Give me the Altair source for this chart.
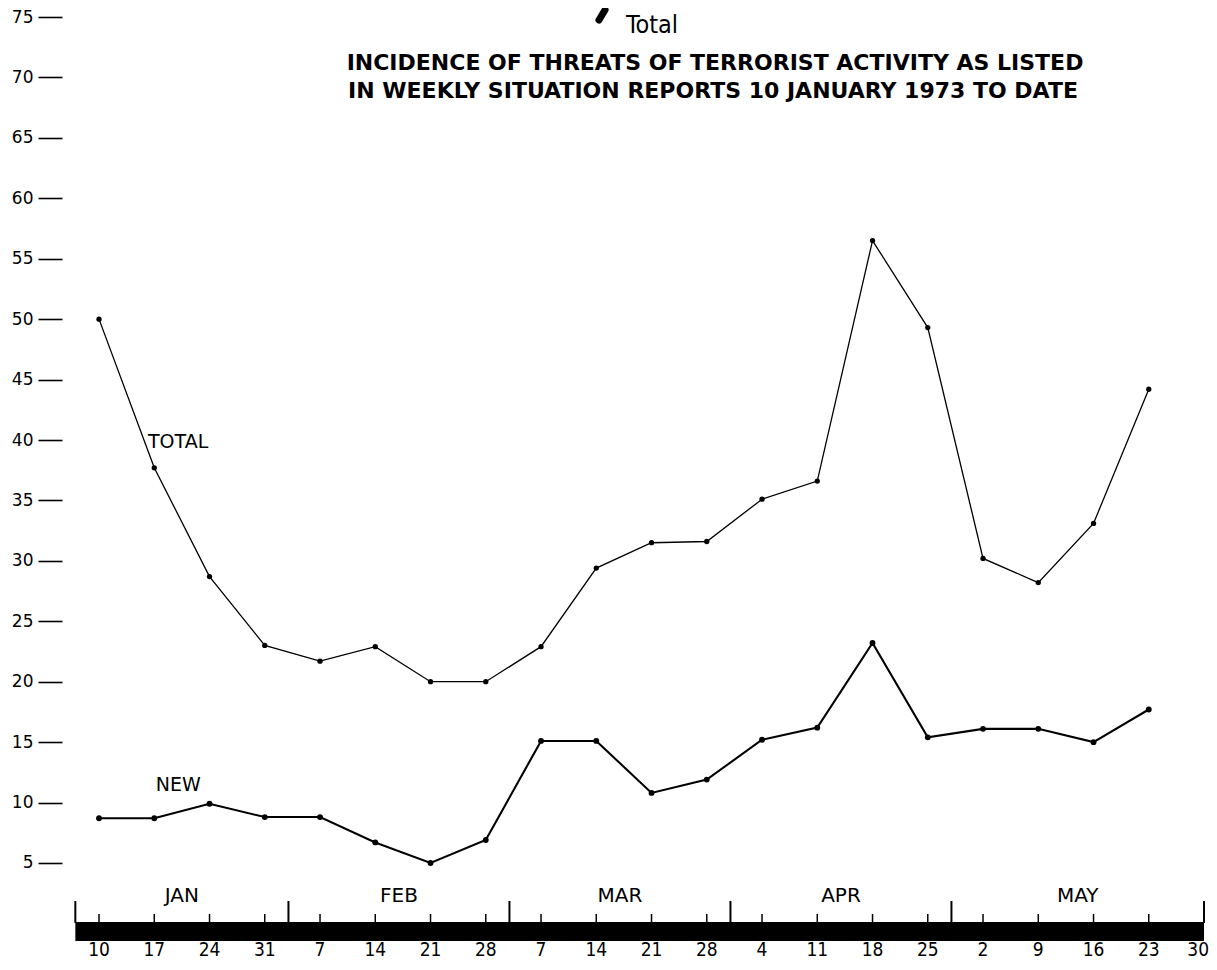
import altair as alt
import pandas as pd

# ---- data ----
dates = ["1973-01-10", "1973-01-17", "1973-01-24", "1973-01-31", "1973-02-07",
         "1973-02-14", "1973-02-21", "1973-02-28", "1973-03-07", "1973-03-14",
         "1973-03-21", "1973-03-28", "1973-04-04", "1973-04-11", "1973-04-18",
         "1973-04-25", "1973-05-02", "1973-05-09", "1973-05-16", "1973-05-23"]
total = [50.0, 37.7, 28.7, 23.0, 21.7, 22.9, 20.0, 20.0, 22.9, 29.4,
         31.5, 31.6, 35.1, 36.6, 56.5, 49.3, 30.2, 28.2, 33.1, 44.2]
new = [8.7, 8.7, 9.9, 8.8, 8.8, 6.7, 5.0, 6.9, 15.1, 15.1,
       10.8, 11.9, 15.2, 16.2, 23.2, 15.4, 16.1, 16.1, 15.0, 17.7]
axis_dates = dates + ["1973-05-30"]
month_names = ["JAN", "FEB", "MAR", "APR", "MAY"]
month_bounds = ["1973-01-07", "1973-02-03", "1973-03-03", "1973-03-31", "1973-04-28", "1973-05-30"]
y_ticks = [5, 10, 15, 20, 25, 30, 35, 40, 45, 50, 55, 60, 65, 70, 75]
title_lines = ["INCIDENCE OF THREATS OF TERRORIST ACTIVITY AS LISTED",
               "IN WEEKLY SITUATION REPORTS 10 JANUARY 1973 TO DATE"]
series_labels = ["TOTAL", "NEW"]
series_label_pos = [("1973-01-16", 39.8), ("1973-01-17", 11.45)]

COND = "DejaVu Sans Condensed, Liberation Sans, sans-serif"


def doy(s):
    return (pd.Timestamp(s) - pd.Timestamp("1972-12-31")).days


days = [doy(d) for d in dates]
df_total = pd.DataFrame({"day": days, "value": total})
df_new = pd.DataFrame({"day": days, "value": new})
df_axis = pd.DataFrame({"day": [doy(d) for d in axis_dates],
                        "label": [str(pd.Timestamp(d).day) for d in axis_dates]})
bounds = [doy(d) for d in month_bounds]
df_bounds = pd.DataFrame({"day": bounds})
df_months = pd.DataFrame({"day": [(bounds[i] + bounds[i + 1]) / 2 for i in range(5)],
                          "label": month_names})
df_bar = pd.DataFrame({"day": [bounds[0]], "day2": [bounds[-1]]})
df_lbl = pd.DataFrame({"day": [doy(p[0]) + 0.2 for p in series_label_pos],
                       "value": [p[1] for p in series_label_pos],
                       "label": series_labels})

xs = alt.Scale(domain=[5.31, 150.63])
ys = alt.Scale(domain=[-1.537, 75.745])
X = alt.X("day:Q", scale=xs, axis=None)
Y = alt.Y("value:Q", scale=ys, title=None,
          axis=alt.Axis(values=y_ticks, tickSize=24, tickWidth=1.6, tickColor="black",
                        domain=False, grid=False, labelPadding=5, labelFontSize=17,
                        labelFont="DejaVu Sans", labelColor="black"))

line_total = alt.Chart(df_total).mark_line(color="black", strokeWidth=1.3).encode(x=X, y=Y)
pts_total = alt.Chart(df_total).mark_circle(color="black", size=28, opacity=1).encode(x=X, y=Y)
line_new = alt.Chart(df_new).mark_line(color="black", strokeWidth=2.1).encode(x=X, y=Y)
pts_new = alt.Chart(df_new).mark_circle(color="black", size=34, opacity=1).encode(x=X, y=Y)

series_text = alt.Chart(df_lbl).mark_text(align="left", baseline="middle", fontSize=19,
                                          font="DejaVu Sans", color="black").encode(
    x=X, y=Y, text="label:N")

bar = alt.Chart(df_bar).mark_rect(color="black").encode(
    x=X, x2="day2:Q", y=alt.value(914), y2=alt.value(933))
small_ticks = alt.Chart(df_axis).mark_rule(color="black", strokeWidth=1.5).encode(
    x=X, y=alt.value(906), y2=alt.value(915))
dividers = alt.Chart(df_bounds).mark_rule(color="black", strokeWidth=2).encode(
    x=X, y=alt.value(893), y2=alt.value(915))
month_text = alt.Chart(df_months).mark_text(fontSize=20, font="DejaVu Sans", color="black",
                                            baseline="alphabetic").encode(
    x=X, y=alt.value(894), text="label:N")
date_text = alt.Chart(df_axis.iloc[:-1]).mark_text(fontSize=19, font=COND,
                                                   color="black", baseline="alphabetic").encode(
    x=X, y=alt.value(948), text="label:N")
date_text_last = alt.Chart(df_axis.iloc[-1:]).mark_text(fontSize=19, font=COND, align="right", dx=5,
                                                        color="black", baseline="alphabetic").encode(
    x=X, y=alt.value(948), text="label:N")

df_title = pd.DataFrame({"t": title_lines, "row": [0, 1]})
title1 = alt.Chart(df_title.iloc[[0]]).mark_text(fontSize=22, font="DejaVu Sans", fontWeight="bold",
                                                 color="black", baseline="alphabetic").encode(
    x=alt.value(653), y=alt.value(62), text="t:N")
title2 = alt.Chart(df_title.iloc[[1]]).mark_text(fontSize=22, font="DejaVu Sans", fontWeight="bold",
                                                 color="black", baseline="alphabetic").encode(
    x=alt.value(651), y=alt.value(90), text="t:N")
top_word = alt.Chart(pd.DataFrame({"t": ["Total"]})).mark_text(
    fontSize=25, font=COND, color="black", baseline="alphabetic").encode(
    x=alt.value(590), y=alt.value(25), text="t:N")
blob = alt.Chart(pd.DataFrame({"a": [0]})).mark_rule(color="black", strokeWidth=7, strokeCap="round").encode(
    x=alt.value(543), x2=alt.value(537), y=alt.value(2), y2=alt.value(12))

chart = alt.layer(
    bar, small_ticks, dividers, month_text, date_text, date_text_last,
    line_total, pts_total, line_new, pts_new, series_text,
    title1, title2, top_word, blob
).properties(
    width=1147, height=934,
    autosize=alt.AutoSizeParams(type="none"),
    padding={"left": 54, "top": 0, "right": 0, "bottom": 20},
    background="white"
).configure_view(stroke=None)

chart.save("out.html", embed_options={"renderer": "svg", "actions": False})
